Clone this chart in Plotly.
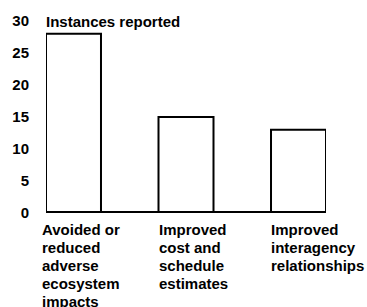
import plotly.graph_objects as go

categories = [["Avoided or", "reduced", "adverse", "ecosystem", "impacts"],
              ["Improved", "cost and", "schedule", "estimates"],
              ["Improved", "interagency", "relationships"]]
values = [28, 15, 13]
y_ticks = [0, 5, 10, 15, 20, 25, 30]
y_title = "Instances reported"

FONT = dict(family="Liberation Sans, Arial, Helvetica, sans-serif", size=15, color="black", weight="bold")
half_bar = 0.2444
xs = list(range(len(categories)))
label_xshift = [-6, -2, -2]
LINE_H = 18.2
FIRST_LINE = 16

fig = go.Figure()
fig.add_trace(go.Bar(
    x=xs, y=values, width=2 * half_bar,
    marker=dict(color="white", line=dict(color="black", width=2)),
    hoverinfo="skip",
))

fig.add_shape(type="line", xref="x", yref="y", x0=-half_bar, x1=len(categories) - 1 + half_bar,
              y0=0, y1=0, line=dict(color="black", width=4), layer="above")

for i, lines in enumerate(categories):
    for k, line in enumerate(lines):
        fig.add_annotation(x=i - half_bar, y=0, xref="x", yref="y", text=line, showarrow=False,
                           xanchor="left", yanchor="middle", align="left",
                           yshift=-(FIRST_LINE + LINE_H * k), xshift=label_xshift[i],
                           font=FONT)

fig.add_annotation(x=0, y=30, xref="paper", yref="y", text=y_title, showarrow=False,
                   xanchor="left", yanchor="middle", xshift=-2, font=FONT)

fig.update_layout(
    width=367, height=307,
    margin=dict(l=46, r=41, t=18, b=93.5),
    paper_bgcolor="white", plot_bgcolor="white",
    showlegend=False,
    font=FONT,
    xaxis=dict(range=[-half_bar, len(categories) - 1 + half_bar], showticklabels=False,
               showgrid=False, zeroline=False, showline=False, ticks=""),
    yaxis=dict(range=[0, 30], tickvals=y_ticks, showgrid=False, zeroline=False, showline=False,
               ticks="outside", ticklen=13, tickcolor="rgba(0,0,0,0)", tickfont=FONT),
)

fig.write_html("out.html", config={"displayModeBar": False},
               post_script="document.body.style.margin='0';document.body.style.overflow='hidden';")
